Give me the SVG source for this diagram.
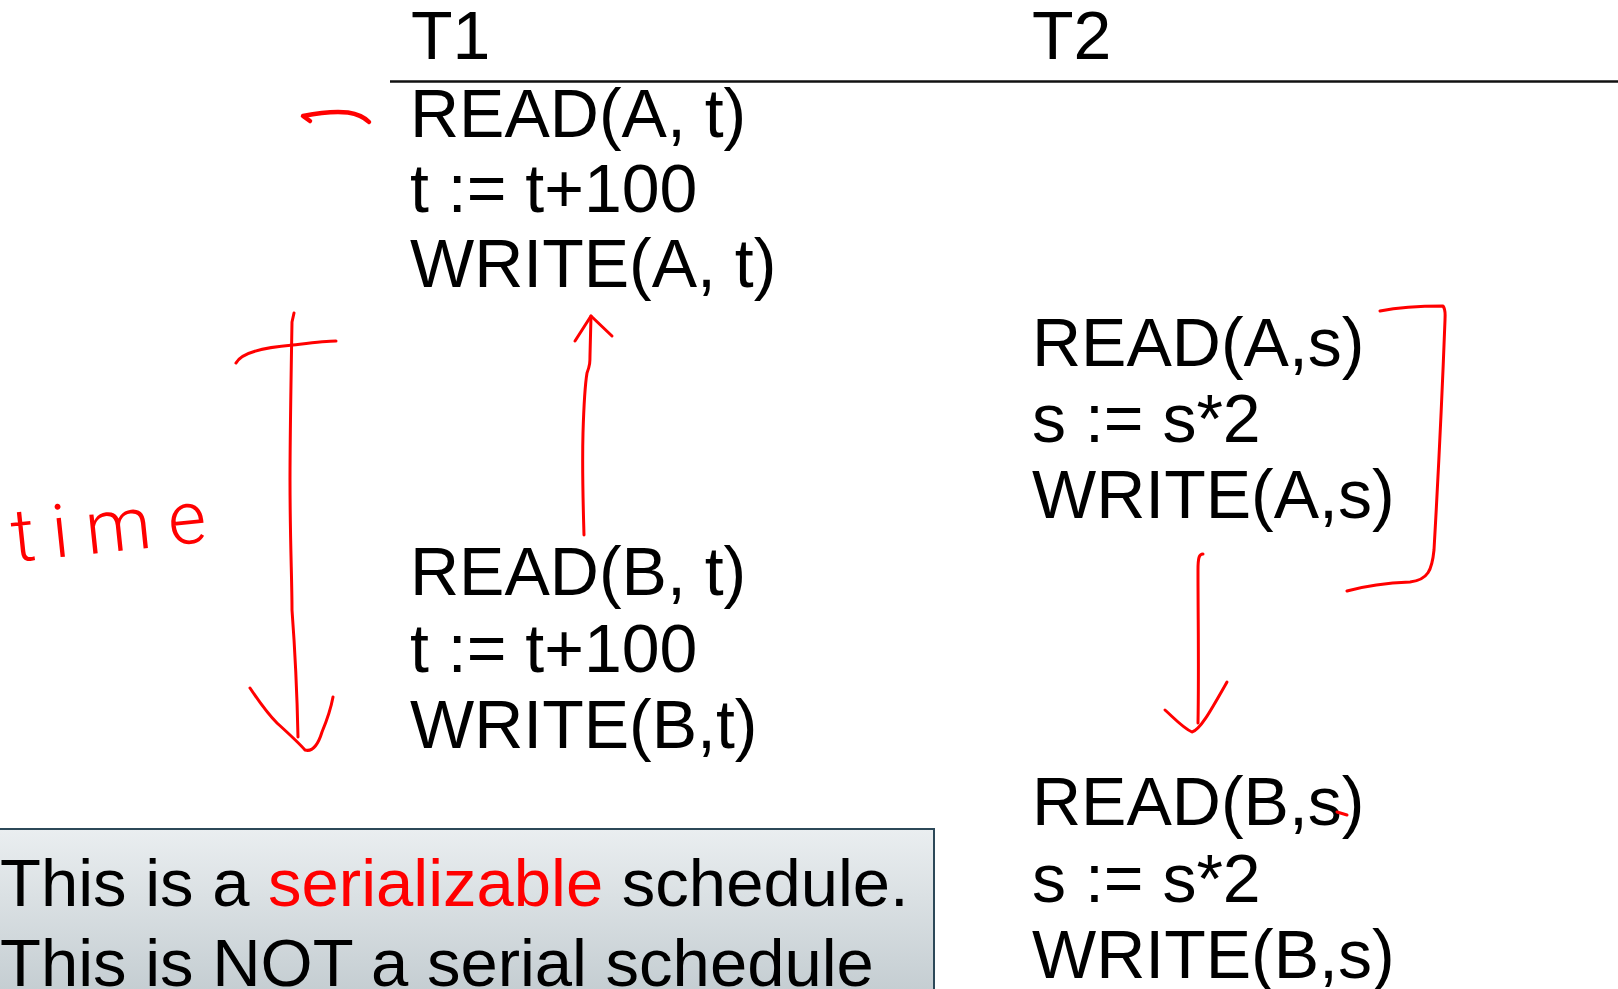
<svg xmlns="http://www.w3.org/2000/svg" width="1618" height="989" viewBox="0 0 1618 989">
  <style>
    .op { font-family: "Liberation Sans", Arial, sans-serif; font-size: 68px; fill: #000; }
    .note { font-family: "Liberation Sans", Arial, sans-serif; font-size: 67px; fill: #000; }
    .hl { fill: #ff0000; }
    .ink { fill: none; stroke: #ff0000; stroke-width: 3; stroke-linecap: round; stroke-linejoin: round; }
    .hand { font-family: "Roboto", "Noto Sans", sans-serif; font-weight: 300; font-size: 74px; fill: #ff0000; }
  </style>
  <defs>
    <linearGradient id="noteFill" x1="0" y1="0" x2="0" y2="1">
      <stop offset="0" stop-color="#eaeef0"/>
      <stop offset="1" stop-color="#bcc6cb"/>
    </linearGradient>
  </defs>

  <rect x="0" y="0" width="1618" height="989" fill="#fff"/>

  <!-- column headers and rule -->
  <g id="header-t1"><text class="op" x="411" y="59">T1</text></g>
  <g id="header-t2"><text class="op" x="1032" y="59">T2</text></g>
  <g id="header-rule"><line x1="390" y1="81.5" x2="1618" y2="81.5" stroke="#111" stroke-width="2.5"/></g>

  <!-- T1, first part -->
  <g id="t1-a">
    <text class="op" x="410" y="137">READ(A, t)</text>
    <text class="op" x="410" y="212">t := t+100</text>
    <text class="op" x="410" y="287">WRITE(A, t)</text>
  </g>

  <!-- T2, first part -->
  <g id="t2-a">
    <text class="op" x="1032" y="366">READ(A,s)</text>
    <text class="op" x="1032" y="442">s := s*2</text>
    <text class="op" x="1032" y="518">WRITE(A,s)</text>
  </g>

  <!-- T1, second part -->
  <g id="t1-b">
    <text class="op" x="410" y="595">READ(B, t)</text>
    <text class="op" x="410" y="672">t := t+100</text>
    <text class="op" x="410" y="748">WRITE(B,t)</text>
  </g>

  <!-- T2, second part -->
  <g id="t2-b">
    <text class="op" x="1032" y="825">READ(B,s)</text>
    <text class="op" x="1032" y="902">s := s*2</text>
    <text class="op" x="1032" y="978">WRITE(B,s)</text>
  </g>

  <!-- callout box -->
  <g id="note">
    <rect x="-6" y="829" width="940" height="200" fill="url(#noteFill)" stroke="#2c4858" stroke-width="2"/>
    <text class="note" x="0" y="906">This is a <tspan class="hl">serializable</tspan> schedule.</text>
    <text class="note" x="0" y="986">This is NOT a serial schedule</text>
  </g>

  <!-- handwritten label -->
  <g id="time-label">
    <text class="hand" x="14" y="562" letter-spacing="17" transform="rotate(-6 14 562)">time</text>
  </g>

  <!-- red pen annotations -->
  <g id="connectors">
    <!-- mark before READ(A, t) -->
    <path class="ink" style="stroke-width:4.5" d="M310,121 L303,116 C318,113 334,111 348,112.5 C358,114 364,117 369,122"/>
    <!-- time axis -->
    <path class="ink" d="M236,363 C242,352 268,347 293,345 C310,343 325,341 336,341"/>
    <path class="ink" d="M294,313 L292,322 C291,380 290,440 290,480 C290,540 292,580 292,610 C295,650 297,690 298,737"/>
    <path class="ink" d="M250,688 C258,700 268,714 277,723 C288,733 298,742 305,750 C312,752 318,745 322,732 C327,720 331,708 333,697"/>
    <!-- dependency on A, T1 side -->
    <path class="ink" d="M584,535 C583,500 582,470 583,433 C584,400 585,385 587,373 C590,365 590,362 590,355 L591,316"/>
    <path class="ink" d="M575,341 L591,316 L612,336"/>
    <!-- bracket around T2 first part -->
    <path class="ink" d="M1380,311 C1400,307 1420,306 1443,306 C1446,310 1445,315 1445,320 C1442,400 1438,480 1434,550 C1432,570 1428,580 1410,582 C1385,583 1365,586 1347,591"/>
    <!-- dependency on B, T2 side -->
    <path class="ink" d="M1203,554 C1199,554 1198,558 1198,570 C1198,620 1199,670 1198,723"/>
    <path class="ink" d="M1165,710 C1174,718 1183,728 1192,732 C1200,730 1210,712 1227,682"/>
    <!-- small tick near READ(B,s) -->
    <path class="ink" d="M1337,812 L1347,815"/>
  </g>
</svg>
